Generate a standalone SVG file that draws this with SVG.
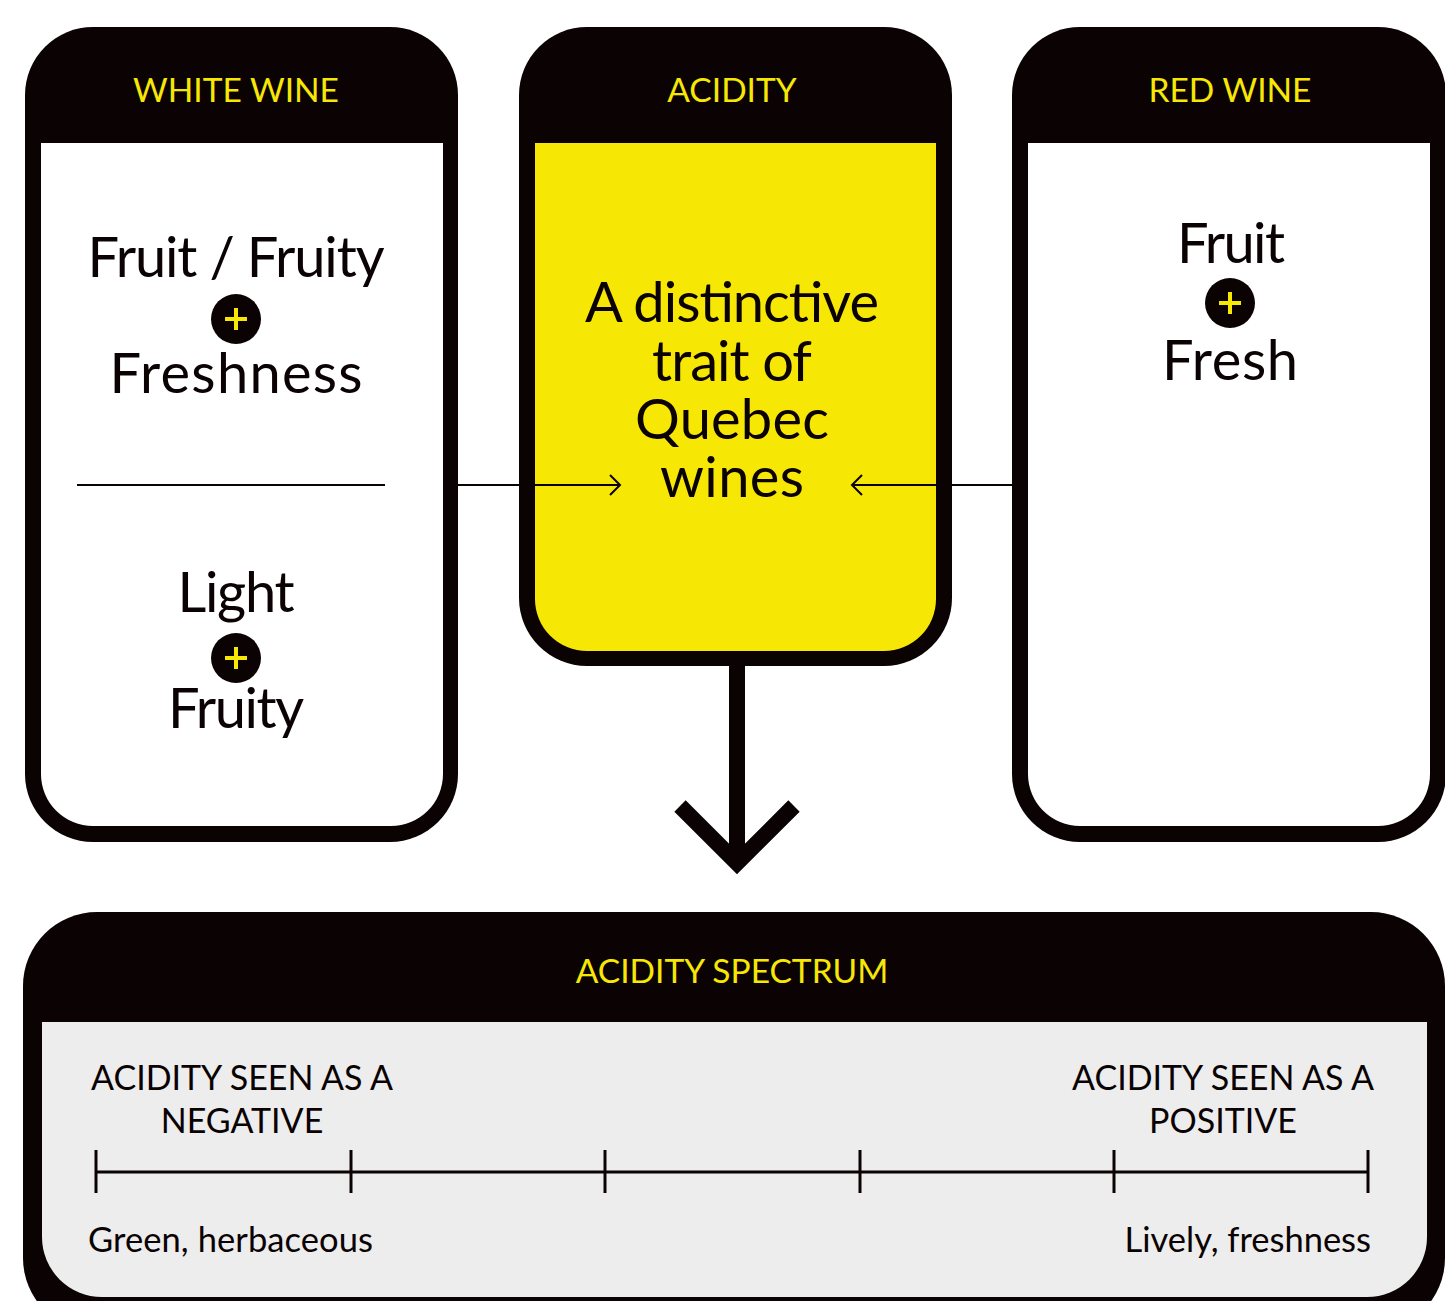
<svg xmlns="http://www.w3.org/2000/svg" width="1445" height="1301" viewBox="0 0 1445 1301">
<defs>
<style>
.blk{fill:#0a0203}
.hdr{font-family:Lato,"Liberation Sans",sans-serif;fill:#f7e705;font-size:33.5px;text-anchor:middle}
.big{font-family:Lato,"Liberation Sans",sans-serif;fill:#0a0203;font-size:56px;text-anchor:middle}
.sm{font-family:Lato,"Liberation Sans",sans-serif;fill:#0a0203;font-size:34px}
.lbl{font-family:Lato,"Liberation Sans",sans-serif;fill:#0a0203;font-size:34.5px}
.thin{stroke:#0a0203;stroke-width:2;fill:none}
.plus{stroke:#f7e705;stroke-width:4;fill:none}
</style>
<g id="plusIcon">
<circle cx="0" cy="0" r="25" fill="#0a0203"/>
<path class="plus" d="M-11,0 H11 M0,-11 V11"/>
</g>
</defs>
<rect width="1445" height="1301" fill="#ffffff"/>

<g id="white-wine">
<rect class="blk" x="25" y="27" width="433" height="815" rx="68"/>
<path fill="#ffffff" d="M41,143 H443 V774 A52,52 0 0 1 391,826 H93 A52,52 0 0 1 41,774 Z"/>
<text class="hdr" x="236" y="102">WHITE WINE</text>
<text class="big" x="236" y="277" textLength="297">Fruit / Fruity</text>
<use href="#plusIcon" x="236" y="319"/>
<text class="big" x="236" y="393" textLength="253">Freshness</text>
<line x1="77" y1="485" x2="385" y2="485" stroke="#0a0203" stroke-width="2"/>
<text class="big" x="236" y="612" textLength="117">Light</text>
<use href="#plusIcon" x="236" y="658"/>
<text class="big" x="236" y="728" textLength="136">Fruity</text>
</g>

<g id="acidity">
<rect class="blk" x="519" y="27" width="433" height="639" rx="68"/>
<path fill="#f7e705" d="M535,143 H936 V599 A52,52 0 0 1 884,651 H587 A52,52 0 0 1 535,599 Z"/>
<text class="hdr" x="732" y="102">ACIDITY</text>
<text class="big" x="732" y="322" textLength="294">A distinctive</text>
<text class="big" x="732" y="381" textLength="160">trait of</text>
<text class="big" x="732" y="439" textLength="194">Quebec</text>
<text class="big" x="732" y="497" textLength="144">wines</text>
</g>

<g id="red-wine">
<rect class="blk" x="1012" y="27" width="434" height="815" rx="68"/>
<path fill="#ffffff" d="M1028,143 H1430 V774 A52,52 0 0 1 1378,826 H1080 A52,52 0 0 1 1028,774 Z"/>
<text class="hdr" x="1230" y="102">RED WINE</text>
<text class="big" x="1231" y="263" textLength="108">Fruit</text>
<use href="#plusIcon" x="1230" y="303"/>
<text class="big" x="1230" y="380" textLength="136">Fresh</text>
</g>

<g id="acidity-spectrum">
<rect class="blk" x="23" y="912" width="1422" height="420" rx="74"/>
<path fill="#ecedec" d="M42,1022 H1427 V1237 A60,60 0 0 1 1367,1297 H102 A60,60 0 0 1 42,1237 Z"/>
<text class="hdr" x="732" y="983">ACIDITY SPECTRUM</text>
<text class="sm" x="242" y="1090" text-anchor="middle">ACIDITY SEEN AS A</text>
<text class="sm" x="242" y="1133" text-anchor="middle">NEGATIVE</text>
<text class="sm" x="1223" y="1090" text-anchor="middle">ACIDITY SEEN AS A</text>
<text class="sm" x="1223" y="1133" text-anchor="middle">POSITIVE</text>
<g stroke="#0a0203" stroke-width="3" fill="none">
<line x1="96" y1="1172" x2="1368" y2="1172"/>
<line x1="96" y1="1150" x2="96" y2="1193"/>
<line x1="351" y1="1150" x2="351" y2="1193"/>
<line x1="605" y1="1150" x2="605" y2="1193"/>
<line x1="860" y1="1150" x2="860" y2="1193"/>
<line x1="1114" y1="1150" x2="1114" y2="1193"/>
<line x1="1368" y1="1150" x2="1368" y2="1193"/>
</g>
<text class="lbl" x="88" y="1252" textLength="285">Green, herbaceous</text>
<text class="lbl" x="1371" y="1252" text-anchor="end">Lively, freshness</text>
</g>

<g id="connectors">
<path class="thin" d="M458,485 H620 M610,475 L620,485 L610,495"/>
<path class="thin" d="M1012,485 H852 M862,475 L852,485 L862,495"/>
<line x1="737" y1="666" x2="737" y2="862" stroke="#0a0203" stroke-width="16"/>
<polyline points="680,806 737,863 794,806" fill="none" stroke="#0a0203" stroke-width="16" stroke-linejoin="miter"/>
</g>
</svg>
